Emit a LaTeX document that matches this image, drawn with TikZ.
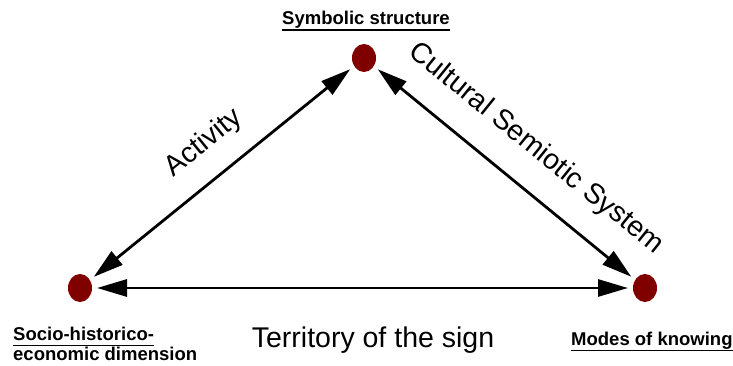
\documentclass[tikz,border=0pt]{standalone}
\usepackage{fontspec}
\setmainfont{Liberation Sans}
\usepackage{tikz}
\usetikzlibrary{shapes.geometric,arrows.meta,positioning}
\definecolor{dotred}{RGB}{128,0,0}
\newsavebox{\ulsave}
\newcommand{\thickul}[1]{\sbox{\ulsave}{#1}\rlap{\usebox{\ulsave}}\rule[-6.3pt]{\wd\ulsave}{1.8pt}}
\tikzset{
  vertex/.style={ellipse,fill=dotred,minimum width=24pt,minimum height=28pt,
    inner sep=0pt,outer sep=5pt},
  cornerlbl/.style={font=\fontsize{18.5}{20}\selectfont\bfseries,inner sep=0pt},
  sidelbl/.style={font=\fontsize{28.5}{32}\selectfont,inner sep=0pt},
  tarrow/.style={{Triangle[length=30pt,width=17pt]}-{Triangle[length=30pt,width=17pt]},
    line width=2.8pt}
}

\begin{document}
\begin{tikzpicture}[x=1pt,y=-1pt]
  \useasboundingbox (0,0) rectangle (733,366);

  % the three poles
  \node[vertex] (sym) at (364,58)  {};
  \node[vertex] (soc) at (80,288)  {};
  \node[vertex] (mod) at (645,288) {};

  \foreach \a/\b in {soc/sym,sym/mod,soc/mod}
    \draw[tarrow] (\a) -- (\b);

  % pole names
  \node[cornerlbl,anchor=base] (symlbl) at (366,25) {\thickul{Symbolic structure}};
  \node[cornerlbl,anchor=base west] (soclbl) at (13,340) {\thickul{Socio-historico-}};
  \node[cornerlbl,anchor=base west] (soclbltwo) at (13,360) {economic dimension};
  \node[cornerlbl,anchor=base west] (modlbl) at (571,345) {\thickul{Modes of knowing}};

  % side names
  \node[sidelbl,rotate=39]  (act) at (204,143) {Activity};
  \node[sidelbl,rotate=-39] (css) at (536,149) {Cultural Semiotic System};
  \node[sidelbl,anchor=base] (ter) at (373,347) {Territory of the sign};
\end{tikzpicture}
\end{document}
